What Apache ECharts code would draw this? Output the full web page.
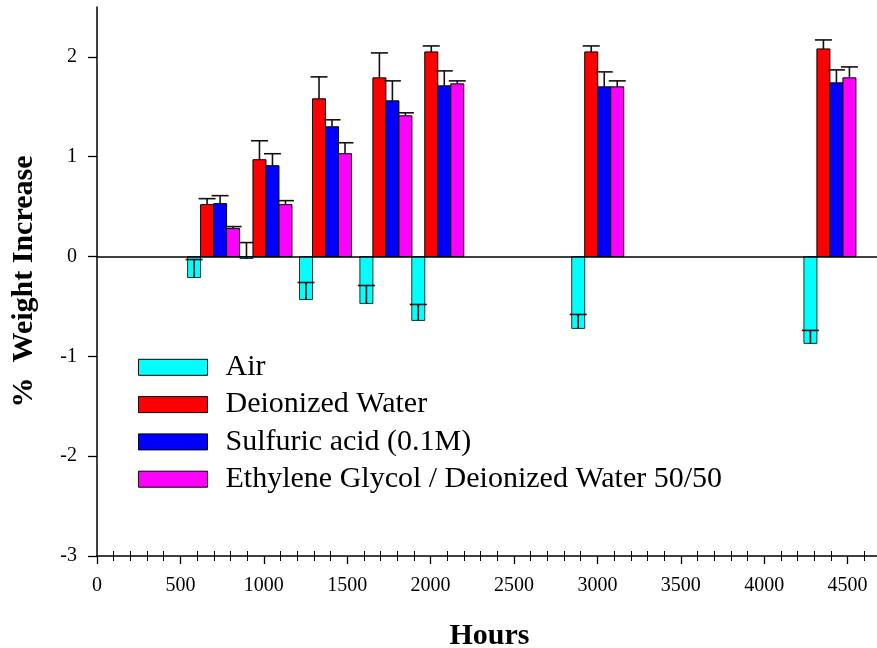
<!DOCTYPE html>
<html>
<head>
<meta charset="utf-8">
<script src="https://cdn.jsdelivr.net/npm/echarts@6/dist/echarts.min.js"></script>
<style>
  html, body { margin: 0; padding: 0; background: #fff; }
  #chart { width: 877px; height: 648px; }
</style>
</head>
<body>
<div id="chart"></div>
<script>
// Exposure time of each sample group (hours)
const hours = [699, 1013, 1370, 1732, 2043, 3002, 4394];

// Mean % weight change and the (one-sided) error of each medium
const air        = [-0.21, -0.02, -0.43, -0.47, -0.64, -0.72, -0.87];
const airErr     = [ 0.18,  0.16,  0.17,  0.18,  0.16,  0.14,  0.13];
const water      = [ 0.52,  0.97,  1.58,  1.79,  2.05,  2.05,  2.08];
const waterErr   = [ 0.06,  0.19,  0.22,  0.25,  0.06,  0.06,  0.09];
const acid       = [ 0.53,  0.91,  1.30,  1.56,  1.71,  1.70,  1.74];
const acidErr    = [ 0.08,  0.12,  0.07,  0.20,  0.15,  0.15,  0.13];
const glycol     = [ 0.28,  0.52,  1.03,  1.41,  1.73,  1.70,  1.79];
const glycolErr  = [ 0.02,  0.04,  0.11,  0.03,  0.03,  0.06,  0.11];

const seriesNames = ['Air', 'Deionized Water', 'Sulfuric acid (0.1M)', 'Ethylene Glycol / Deionized Water 50/50'];
const seriesColors = ['#00FFFF', '#FF0000', '#0000FF', '#FF00FF'];
const seriesValues = [air, water, acid, glycol];
const seriesErrors = [airErr, waterErr, acidErr, glycolErr];

const xTickLabels = [0, 500, 1000, 1500, 2000, 2500, 3000, 3500, 4000, 4500];
const yTickLabels = [-3, -2, -1, 0, 1, 2];

const FONT = 'Liberation Serif, Times New Roman, serif';
const BAR_W = 13;     // bar width in px
const CAP_W = 17;     // error-bar cap width in px

function makeRenderer(slot, edge) {
  return function (params, api) {
    const t = api.value(0), v = api.value(1), e = api.value(2);
    const base = api.coord([t, 0]);
    const top = api.coord([t, v]);
    const cap = api.coord([t, v + e]);
    const x0 = base[0] + slot * BAR_W;
    const cx = x0 + BAR_W / 2;
    const y0 = Math.min(base[1], top[1]);
    const h = Math.abs(top[1] - base[1]);
    return {
      type: 'group',
      children: [
        {
          type: 'rect',
          shape: { x: x0, y: y0, width: BAR_W, height: h },
          style: { fill: api.visual('color'), stroke: edge, lineWidth: 1 }
        },
        {
          type: 'line',
          shape: { x1: cx, y1: top[1], x2: cx, y2: cap[1] },
          style: { stroke: '#111', lineWidth: 1.6 }
        },
        {
          type: 'line',
          shape: { x1: cx - CAP_W / 2, y1: cap[1], x2: cx + CAP_W / 2, y2: cap[1] },
          style: { stroke: '#111', lineWidth: 1.6 }
        }
      ]
    };
  };
}

const edges = ['#0b3b3b', '#000', '#000', '#000'];
const series = seriesNames.map(function (name, i) {
  const s = {
    name: name,
    type: 'custom',
    xAxisIndex: 0,
    yAxisIndex: 0,
    itemStyle: { color: seriesColors[i] },
    encode: { x: 0, y: 1 },
    data: hours.map(function (h, k) { return [h, seriesValues[i][k], seriesErrors[i][k]]; }),
    renderItem: makeRenderer(i - 2, edges[i]),
    z: 3
  };
  if (i === 0) {
    s.markLine = {
      silent: true,
      symbol: ['none', 'none'],
      label: { show: false },
      lineStyle: { color: '#000', width: 1.5, type: 'solid' },
      data: [{ yAxis: 0 }],
      z: 4
    };
  }
  return s;
});

const chart = echarts.init(document.getElementById('chart'), null, { renderer: 'canvas' });
chart.setOption({
  animation: false,
  backgroundColor: '#fff',
  grid: { left: 97, right: -54, top: 7, bottom: 92, containLabel: false, outerBoundsMode: 'none' },
  legend: {
    data: seriesNames,
    orient: 'vertical',
    left: 138,
    top: 352.3,
    padding: 0,
    itemGap: 7.3,
    itemWidth: 69,
    itemHeight: 16,
    icon: 'rect',
    selectedMode: false,
    itemStyle: { borderColor: '#000', borderWidth: 1 },
    textStyle: { fontFamily: FONT, fontSize: 30, color: '#000', lineHeight: 30, padding: [0, 0, 0, 13] }
  },
  xAxis: [
    {
      type: 'value',
      min: 0, max: 5000, interval: 500,
      position: 'bottom',
      axisLine: { show: true, onZero: false, lineStyle: { color: '#000', width: 1.5 } },
      axisTick: { show: true, length: 8, lineStyle: { color: '#000', width: 1.3 } },
      minorTick: { show: true, splitNumber: 5, length: 5, lineStyle: { color: '#000', width: 1 } },
      splitLine: { show: false },
      axisLabel: {
        fontFamily: FONT, fontSize: 20, color: '#000', margin: 20,
        formatter: function (v) { return xTickLabels.indexOf(v) >= 0 ? String(v) : ''; }
      }
    },
    {
      type: 'value',
      min: 0, max: 5000, interval: 500,
      position: 'bottom',
      axisLine: { show: false, onZero: false },
      axisTick: { show: false, inside: true },
      minorTick: { show: true, splitNumber: 5, length: 5, lineStyle: { color: '#000', width: 1 } },
      splitLine: { show: false },
      axisLabel: { show: false }
    }
  ],
  yAxis: {
    type: 'value',
    min: -3, max: 2.5, interval: 1,
    name: '%  Weight Increase',
    nameLocation: 'middle',
    nameRotate: 90,
    nameGap: 58,
    nameTextStyle: { fontFamily: FONT, fontSize: 30, fontWeight: 'bold', color: '#000' },
    axisLine: { show: true, onZero: false, lineStyle: { color: '#000', width: 1.5 } },
    axisTick: { show: true, length: 9, customValues: yTickLabels, lineStyle: { color: '#000', width: 1.3 } },
    splitLine: { show: false },
    axisLabel: {
      fontFamily: FONT, fontSize: 20, color: '#000', margin: 20,
      customValues: yTickLabels,
      formatter: function (v) { return yTickLabels.indexOf(v) >= 0 ? String(v) : ''; }
    }
  },
  graphic: [
    {
      type: 'text',
      style: {
        text: 'Hours', x: 489.5, y: 636,
        textAlign: 'center', textVerticalAlign: 'middle',
        font: 'bold 30px ' + FONT, fill: '#000'
      }
    }
  ],
  series: series
});
</script>
</body>
</html>
